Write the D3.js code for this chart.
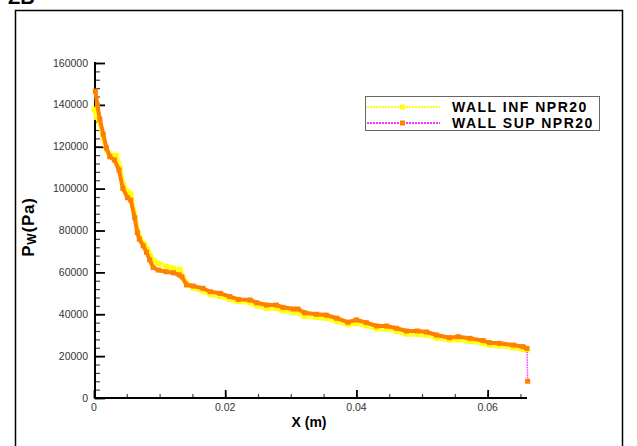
<!DOCTYPE html>
<html>
<head>
<meta charset="utf-8">
<script src="https://cdn.jsdelivr.net/npm/d3@7"></script>
<style>
  body { margin: 0; background: #fff; }
  svg { display: block; font-family: Arial, "Liberation Sans", sans-serif; }
</style>
</head>
<body>
<svg id="chart" width="637" height="446"></svg>
<script>
// wall pressure along x
const infX = [0.0000, 0.0004, 0.0009, 0.0014, 0.0019, 0.0026, 0.0034, 0.0040, 0.0045, 0.0052,
  0.0056, 0.0062, 0.0067, 0.0071, 0.0077, 0.0082, 0.0087, 0.0092, 0.0098, 0.0110,
  0.0121, 0.0131, 0.0136, 0.0141, 0.0151, 0.0166, 0.0177, 0.0192, 0.0207, 0.0220,
  0.0238, 0.0248, 0.0263, 0.0278, 0.0288, 0.0304, 0.0321, 0.0339, 0.0354, 0.0370,
  0.0387, 0.0400, 0.0415, 0.0431, 0.0446, 0.0461, 0.0476, 0.0493, 0.0507, 0.0522,
  0.0542, 0.0555, 0.0573, 0.0593, 0.0603, 0.0618, 0.0639, 0.0654, 0.0660];
const infP = [138000, 134000, 131500, 124000, 118500, 116000, 116000, 110000, 101500, 98500,
  97500, 88000, 79500, 76000, 73500, 71000, 67500, 65500, 64300, 63000,
  62000, 61500, 57500, 55000, 52500, 51000, 49500, 48500, 47000, 46000,
  45500, 44000, 42800, 42800, 41500, 41000, 39000, 38500, 38000, 36500,
  35000, 35500, 34500, 33000, 33000, 31800, 30500, 30300, 30000, 28600,
  27600, 27800, 27000, 26000, 25200, 24800, 24000, 23200, 22800];

const supX = [0.0002, 0.0005, 0.0009, 0.0014, 0.0019, 0.0024, 0.0031, 0.0038, 0.0044, 0.0051,
  0.0056, 0.0062, 0.0066, 0.0069, 0.0075, 0.0080, 0.0085, 0.0090, 0.0098, 0.0110,
  0.0121, 0.0130, 0.0134, 0.0141, 0.0151, 0.0166, 0.0177, 0.0192, 0.0207, 0.0220,
  0.0238, 0.0248, 0.0263, 0.0278, 0.0288, 0.0304, 0.0311, 0.0321, 0.0339, 0.0354,
  0.0370, 0.0387, 0.0400, 0.0415, 0.0431, 0.0446, 0.0461, 0.0476, 0.0493, 0.0507,
  0.0522, 0.0542, 0.0555, 0.0573, 0.0593, 0.0603, 0.0618, 0.0639, 0.0654, 0.0660, 0.0661];
const supP = [146600, 140000, 133100, 126000, 119500, 115200, 113700, 108900, 100100, 95700,
  94500, 86100, 79000, 75900, 72700, 69600, 65900, 62400, 61100, 60300,
  59800, 58800, 57900, 54000, 53500, 52400, 50800, 50000, 48400, 47100,
  46800, 45500, 44400, 44400, 43300, 42500, 42500, 40700, 40000, 39600,
  38100, 36200, 37300, 36000, 34400, 34400, 33300, 32000, 32000, 31500,
  30100, 28800, 29300, 28500, 27400, 26400, 26100, 25300, 24500, 23700, 8000];

const yTicks = [0, 20000, 40000, 60000, 80000, 100000, 120000, 140000, 160000];
const xTicks = [0, 0.02, 0.04, 0.06];
const legendNames = ["WALL INF NPR20", "WALL SUP NPR20"];

const svg = d3.select("#chart");

// outer frame
svg.append("rect")
  .attr("x", 15.5).attr("y", 10.5).attr("width", 607).attr("height", 460)
  .attr("fill", "none").attr("stroke", "#000").attr("stroke-width", 1.5);

// plot number, clipped at the very top like the original
svg.append("text")
  .attr("x", 8).attr("y", 4)
  .attr("font-size", 20).attr("font-weight", "bold")
  .text("ZB");

const x = d3.scaleLinear().domain([0, 0.066]).range([94, 527]);
const y = d3.scaleLinear().domain([0, 160000]).range([398, 63]);

// y axis, ticks pointing into the plot
const gy = svg.append("g").attr("transform", "translate(95,0)");
gy.call(d3.axisRight(y).tickValues(d3.range(0, 160001, 4000)).tickSize(5).tickFormat(""))
  .call(g => g.select(".domain").remove())
  .call(g => g.selectAll(".tick line").attr("stroke", "#444").attr("stroke-width", 1.2));
const gyMaj = svg.append("g").attr("transform", "translate(95,0)");
gyMaj.call(d3.axisRight(y).tickValues(yTicks).tickSize(10).tickFormat(""))
  .call(g => g.select(".domain").remove())
  .call(g => g.selectAll(".tick line").attr("stroke", "#000").attr("stroke-width", 1.8));
svg.append("g").selectAll("text").data(yTicks).join("text")
  .attr("x", 88)
  .attr("y", d => y(d) + 3.5)
  .attr("text-anchor", "end")
  .attr("font-size", 10.5).attr("fill", "#333")
  .text(d => d);

// x axis, ticks pointing up
const gx = svg.append("g").attr("transform", "translate(0,398)");
gx.call(d3.axisTop(x).tickValues(d3.range(0, 0.0651, 0.005)).tickSize(4).tickFormat(""))
  .call(g => g.select(".domain").remove())
  .call(g => g.selectAll(".tick line").attr("stroke", "#444").attr("stroke-width", 1.2));
const gxMaj = svg.append("g").attr("transform", "translate(0,398)");
gxMaj.call(d3.axisTop(x).tickValues(xTicks).tickSize(8).tickFormat(""))
  .call(g => g.select(".domain").remove())
  .call(g => g.selectAll(".tick line").attr("stroke", "#000").attr("stroke-width", 1.8));
svg.append("g").selectAll("text").data(xTicks).join("text")
  .attr("x", d => x(d))
  .attr("y", 411)
  .attr("text-anchor", "middle")
  .attr("font-size", 10.5).attr("fill", "#333")
  .text(d => d === 0 ? "0" : d3.format(".2f")(d));

// axis lines
svg.append("line").attr("x1", 95).attr("x2", 95).attr("y1", 62).attr("y2", 399)
  .attr("stroke", "#000").attr("stroke-width", 2);
svg.append("line").attr("x1", 94).attr("x2", 527).attr("y1", 398).attr("y2", 398)
  .attr("stroke", "#000").attr("stroke-width", 2);

// axis titles
svg.append("text")
  .attr("x", 309).attr("y", 427)
  .attr("text-anchor", "middle")
  .attr("font-size", 14).attr("font-weight", "bold")
  .text("X (m)");
const yt = svg.append("text")
  .attr("transform", "translate(34,227) rotate(-90)")
  .attr("text-anchor", "middle")
  .attr("font-size", 17).attr("font-weight", "bold")
  .attr("letter-spacing", 0.8);
yt.append("tspan").text("P");
yt.append("tspan").attr("font-size", 12).attr("dy", 2).text("W");
yt.append("tspan").attr("dy", -2).text("(Pa)");

// series
const inf = infX.map((d, i) => [d, infP[i]]);
const sup = supX.map((d, i) => [d, supP[i]]);
const line = d3.line().x(d => x(d[0])).y(d => y(d[1]));

svg.append("path").attr("d", line(inf))
  .attr("fill", "none").attr("stroke", "#ffff33").attr("stroke-width", 4.5);
svg.selectAll(".mInf").data(inf).join("rect").attr("class", "mInf")
  .attr("x", d => x(d[0]) - 2.5).attr("y", d => y(d[1]) - 2.5)
  .attr("width", 5).attr("height", 5).attr("fill", "#ffff00");

svg.append("path").attr("d", line(sup))
  .attr("fill", "none").attr("stroke", "#ff33ff").attr("stroke-width", 1.5)
  .attr("stroke-dasharray", "1.5,1");
svg.append("path").attr("d", line(sup.slice(0, -1)))
  .attr("fill", "none").attr("stroke", "#ff8000").attr("stroke-width", 4);
svg.selectAll(".mSup").data(sup).join("rect").attr("class", "mSup")
  .attr("x", d => x(d[0]) - 2.5).attr("y", d => y(d[1]) - 2.5)
  .attr("width", 5).attr("height", 5).attr("fill", "#ff7f00");

// legend
const lg = svg.append("g");
lg.append("rect").attr("x", 365.5).attr("y", 96.5).attr("width", 234).attr("height", 34)
  .attr("fill", "#fff").attr("stroke", "#666").attr("stroke-width", 1);
const lineCols = ["#ffff00", "#ff33ff"];
const markCols = ["#ffff00", "#ff7f00"];
legendNames.forEach((name, i) => {
  const cy = 107 + i * 16;
  lg.append("line").attr("x1", 367).attr("x2", 440).attr("y1", cy).attr("y2", cy)
    .attr("stroke", lineCols[i]).attr("stroke-width", 2).attr("stroke-dasharray", "2,1");
  lg.append("rect").attr("x", 400).attr("y", cy - 2.5).attr("width", 5).attr("height", 5)
    .attr("fill", markCols[i]);
  lg.append("text").attr("x", 452).attr("y", cy + 5)
    .attr("font-size", 14).attr("font-weight", "bold").attr("letter-spacing", 1.5)
    .text(name);
});
</script>
</body>
</html>
